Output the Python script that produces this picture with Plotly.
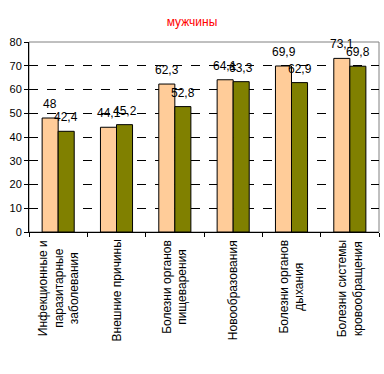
import plotly.graph_objects as go

categories = [
    "Инфекционные и<br>паразитарные<br>заболевания",
    "Внешние причины",
    "Болезни органов<br>пищеварения",
    "Новообразования",
    "Болезни органов<br>дыхания",
    "Болезни системы<br>кровообращения",
]
series_a = [48, 44.1, 62.3, 64.1, 69.9, 73.1]
series_b = [42.4, 45.2, 52.8, 63.3, 62.9, 69.8]
y_ticks = [0, 10, 20, 30, 40, 50, 60, 70, 80]

def fmt(v):
    s = ("%g" % v)
    return s.replace(".", ",")

FONT = "Liberation Sans, Arial, sans-serif"

fig = go.Figure()
fig.add_trace(go.Bar(x=categories, y=series_a, marker=dict(color="#FFCC99", line=dict(color="black", width=1))))
fig.add_trace(go.Bar(x=categories, y=series_b, marker=dict(color="#808000", line=dict(color="black", width=1))))

annotations = []
for cat, va, vb in zip(categories, series_a, series_b):
    for v, dx in ((va, -8), (vb, 8)):
        annotations.append(dict(x=cat, y=v, xref="x", yref="y", text=fmt(v), showarrow=False,
                                xshift=dx, yanchor="bottom", yshift=5,
                                font=dict(family=FONT, size=12, color="black")))
    # category label, rotated, lines centred like the reference
    annotations.append(dict(x=cat, y=0, xref="x", yref="paper", text=cat, showarrow=False,
                            textangle=-90, align="center", xanchor="center", yanchor="top",
                            yshift=-6, font=dict(family=FONT, size=12, color="black")))

fig.update_layout(
    width=384, height=374,
    margin=dict(l=29, r=5, t=42, b=142),
    paper_bgcolor="white", plot_bgcolor="white",
    showlegend=False,
    barmode="group", bargap=0.45, bargroupgap=0,
    title=dict(text="мужчины", x=0.5, xref="container", xanchor="center",
               y=1 - 22 / 374, yref="container", yanchor="middle",
               font=dict(family=FONT, size=12, color="red")),
    annotations=annotations,
    shapes=[dict(type="rect", xref="x domain", yref="y domain", x0=0, x1=1, y0=0, y1=1,
                 line=dict(color="#808080", width=1), layer="below")],
    xaxis=dict(showline=True, linecolor="black", linewidth=1, ticks="outside", ticklen=4,
               tickcolor="black", tickson="boundaries", showticklabels=False, showgrid=False),
    yaxis=dict(range=[0, 80], tickvals=y_ticks, showline=True, linecolor="black", linewidth=1,
               ticks="outside", ticklen=4, tickcolor="black",
               tickfont=dict(family=FONT, size=11, color="black"),
               showgrid=True, gridcolor="black", griddash="dash", gridwidth=1, zeroline=False),
)

fig.write_html("out.html")
